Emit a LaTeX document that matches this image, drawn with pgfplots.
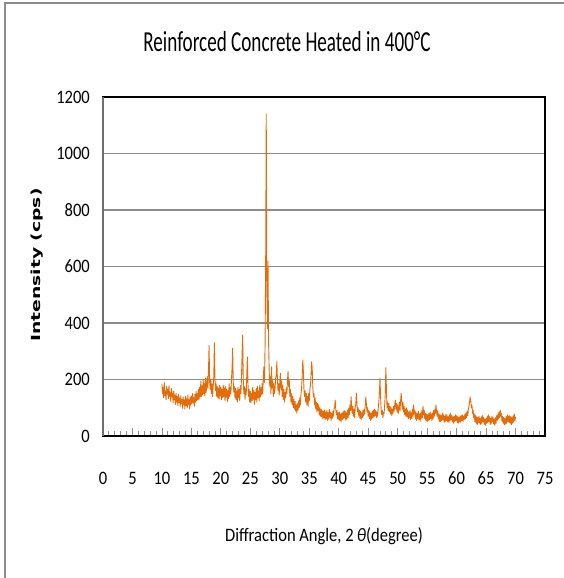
\documentclass[border=0pt]{standalone}
\usepackage{fontspec}
\setmainfont{Carlito}[FakeStretch=0.87]
\newfontfamily\titlefont{Carlito}[FakeStretch=0.66]
\newfontfamily\ylabfont{DejaVu Sans}[FakeStretch=1.5]
\usepackage{pgfplots}
\pgfplotsset{compat=1.18}
\definecolor{xrdorange}{RGB}{228,108,10}
\definecolor{gridgray}{RGB}{140,140,140}
\definecolor{framegray}{RGB}{140,140,140}
\begin{document}
\begin{tikzpicture}
\useasboundingbox (0pt,0pt) rectangle (564pt,578pt);
\fill[white] (0pt,0pt) rectangle (564pt,578pt);
\draw[framegray, line width=1.5pt] (5pt,0pt) -- (5pt,575pt) -- (564pt,575pt);
\begin{axis}[
  at={(103pt,142pt)}, anchor=south west,
  scale only axis, width=442pt, height=339pt,
  xmin=0, xmax=75, ymin=0, ymax=1200,
  xtick={0,5,...,75}, minor x tick num=4,
  ytick={0,200,...,1200},
  tick align=inside, xtick pos=bottom, ytick pos=left,
  major tick length=8pt, minor tick length=5pt,
  x tick style={draw=gridgray, line width=0.8pt},
  minor x tick style={draw=gridgray, line width=0.8pt},
  y tick style={draw=none},
  ymajorgrids, major grid style={draw=gridgray, line width=1.2pt},
  axis line style={black, line width=1.5pt},
  /pgf/number format/assume math mode=true,
  tick label style={font=\fontsize{19}{21}\selectfont},
  xticklabel style={anchor=center, inner sep=0pt, yshift=-42pt},
  yticklabel style={anchor=east, inner sep=0pt, xshift=-13pt},
  /pgf/number format/1000 sep={},
  title={\titlefont\fontsize{29}{31}\selectfont Reinforced Concrete Heated in 400°C},
  title style={at={(axis description cs:0.4163,1.145)}, anchor=center, inner sep=0pt},
  xlabel={\fontsize{19}{21}\selectfont Diffraction Angle, 2\,\textit{θ}(degree)},
  xlabel style={at={(axis description cs:0.5,-0.295)}, anchor=center, inner sep=0pt},
  ylabel={\ylabfont\bfseries\fontsize{12.5}{14}\selectfont Intensity (cps)},
  ylabel style={at={(axis description cs:-0.1493,0.504)}, anchor=center, inner sep=0pt},
  clip=true,
]
\addplot[color=xrdorange, line width=0.9pt, no markers, line join=round] coordinates {
(10.0,185)(10.1,150)(10.2,172)(10.3,135)(10.4,190)(10.5,142)(10.6,160)(10.7,128)(10.8,175)(10.9,148)
(11.0,165)(11.1,132)(11.2,178)(11.3,140)(11.4,155)(11.5,122)(11.6,168)(11.7,138)(11.8,150)(11.9,118)
(12.0,160)(12.1,128)(12.2,145)(12.3,112)(12.4,150)(12.5,120)(12.6,140)(12.7,108)(12.8,148)(12.9,118)
(13.0,135)(13.1,105)(13.2,142)(13.3,115)(13.4,130)(13.5,98)(13.6,138)(13.7,110)(13.8,128)(13.9,95)
(14.0,140)(14.1,108)(14.2,132)(14.3,100)(14.4,145)(14.5,112)(14.6,128)(14.7,96)(14.8,138)(14.9,110)
(15.0,142)(15.1,115)(15.2,150)(15.3,118)(15.4,135)(15.5,105)(15.6,148)(15.7,120)(15.8,158)(15.9,125)
(16.0,150)(16.1,128)(16.2,165)(16.3,130)(16.4,172)(16.5,138)(16.6,195)(16.7,140)(16.8,178)(16.9,145)
(17.0,200)(17.1,150)(17.2,185)(17.3,142)(17.4,205)(17.5,155)(17.6,180)(17.7,210)(17.8,168)(17.9,230)
(18.0,320)(18.1,190)(18.2,165)(18.3,200)(18.4,150)(18.5,185)(18.6,140)(18.7,175)(18.8,210)(18.9,330)
(19.0,200)(19.1,160)(19.2,185)(19.3,140)(19.4,175)(19.5,135)(19.6,168)(19.7,130)(19.8,180)(19.9,142)
(20.0,172)(20.1,128)(20.2,165)(20.3,135)(20.4,180)(20.5,140)(20.6,170)(20.7,125)(20.8,175)(20.9,138)
(21.0,165)(21.1,122)(21.2,160)(21.3,132)(21.4,185)(21.5,140)(21.6,172)(21.7,150)(21.8,200)(21.9,240)
(22.0,311)(22.1,190)(22.2,155)(22.3,175)(22.4,135)(22.5,168)(22.6,128)(22.7,160)(22.8,120)(22.9,172)
(23.0,135)(23.1,165)(23.2,125)(23.3,178)(23.4,150)(23.5,210)(23.6,290)(23.7,357)(23.8,200)(23.9,150)
(24.0,175)(24.1,130)(24.2,168)(24.3,145)(24.4,220)(24.5,280)(24.6,185)(24.7,140)(24.8,165)(24.9,120)
(25.0,158)(25.1,118)(25.2,150)(25.3,125)(25.4,172)(25.5,130)(25.6,160)(25.7,112)(25.8,155)(25.9,128)
(26.0,168)(26.1,120)(26.2,175)(26.3,135)(26.4,160)(26.5,125)(26.6,180)(26.7,138)(26.8,170)(26.9,145)
(27.0,185)(27.1,150)(27.2,205)(27.3,245)(27.4,190)(27.5,320)(27.6,600)(27.7,1140)(27.8,520)(27.9,380)
(28.0,620)(28.1,330)(28.2,230)(28.3,175)(28.4,210)(28.5,150)(28.6,245)(28.7,170)(28.8,195)(28.9,140)
(29.0,185)(29.1,150)(29.2,170)(29.3,205)(29.4,215)(29.5,263)(29.6,200)(29.7,160)(29.8,185)(29.9,145)
(30.0,190)(30.1,222)(30.2,165)(30.3,195)(30.4,140)(30.5,180)(30.6,130)(30.7,165)(30.8,120)(30.9,155)
(31.0,135)(31.1,170)(31.2,150)(31.3,195)(31.4,228)(31.5,175)(31.6,200)(31.7,140)(31.8,165)(31.9,120)
(32.0,150)(32.1,110)(32.2,140)(32.3,100)(32.4,130)(32.5,95)(32.6,122)(32.7,88)(32.8,110)(32.9,80)
(33.0,115)(33.1,92)(33.2,125)(33.3,100)(33.4,135)(33.5,110)(33.6,150)(33.7,170)(33.8,210)(33.9,269)
(34.0,230)(34.1,165)(34.2,140)(34.3,160)(34.4,120)(34.5,150)(34.6,110)(34.7,140)(34.8,105)(34.9,150)
(35.0,125)(35.1,165)(35.2,180)(35.3,215)(35.4,263)(35.5,240)(35.6,175)(35.7,140)(35.8,150)(35.9,110)
(36.0,135)(36.1,95)(36.2,120)(36.3,85)(36.4,115)(36.5,90)(36.6,110)(36.7,75)(36.8,100)(36.9,70)
(37.0,95)(37.1,68)(37.2,90)(37.3,60)(37.4,88)(37.5,65)(37.6,92)(37.7,58)(37.8,85)(37.9,62)
(38.0,90)(38.1,55)(38.2,82)(38.3,60)(38.4,95)(38.5,65)(38.6,85)(38.7,55)(38.8,80)(38.9,62)
(39.0,88)(39.1,70)(39.2,95)(39.3,100)(39.4,127)(39.5,95)(39.6,75)(39.7,90)(39.8,60)(39.9,82)
(40.0,58)(40.1,85)(40.2,55)(40.3,78)(40.4,50)(40.5,80)(40.6,58)(40.7,85)(40.8,62)(40.9,90)
(41.0,65)(41.1,88)(41.2,55)(41.3,82)(41.4,60)(41.5,92)(41.6,65)(41.7,100)(41.8,75)(41.9,110)
(42.0,90)(42.1,139)(42.2,95)(42.3,80)(42.4,105)(42.5,70)(42.6,95)(42.7,65)(42.8,100)(42.9,115)
(43.0,152)(43.1,110)(43.2,85)(43.3,100)(43.4,70)(43.5,92)(43.6,62)(43.7,88)(43.8,58)(43.9,82)
(44.0,65)(44.1,90)(44.2,70)(44.3,95)(44.4,78)(44.5,108)(44.6,138)(44.7,110)(44.8,85)(44.9,100)
(45.0,70)(45.1,90)(45.2,62)(45.3,85)(45.4,55)(45.5,80)(45.6,60)(45.7,88)(45.8,65)(45.9,92)
(46.0,68)(46.1,95)(46.2,72)(46.3,90)(46.4,65)(46.5,85)(46.6,70)(46.7,98)(46.8,120)(46.9,150)
(47.0,205)(47.1,140)(47.2,95)(47.3,75)(47.4,90)(47.5,65)(47.6,85)(47.7,80)(47.8,110)(47.9,150)
(48.0,242)(48.1,160)(48.2,100)(48.3,120)(48.4,90)(48.5,115)(48.6,85)(48.7,105)(48.8,78)(48.9,100)
(49.0,72)(49.1,95)(49.2,80)(49.3,105)(49.4,88)(49.5,110)(49.6,127)(49.7,95)(49.8,115)(49.9,85)
(50.0,110)(50.1,80)(50.2,100)(50.3,120)(50.4,90)(50.5,125)(50.6,152)(50.7,115)(50.8,95)(50.9,120)
(51.0,85)(51.1,105)(51.2,75)(51.3,95)(51.4,70)(51.5,100)(51.6,68)(51.7,92)(51.8,60)(51.9,85)
(52.0,65)(52.1,90)(52.2,58)(52.3,82)(52.4,62)(52.5,95)(52.6,70)(52.7,110)(52.8,78)(52.9,92)
(53.0,60)(53.1,85)(53.2,55)(53.3,80)(53.4,62)(53.5,88)(53.6,58)(53.7,78)(53.8,52)(53.9,82)
(54.0,60)(54.1,90)(54.2,65)(54.3,105)(54.4,75)(54.5,92)(54.6,60)(54.7,80)(54.8,55)(54.9,78)
(55.0,50)(55.1,75)(55.2,55)(55.3,80)(55.4,58)(55.5,85)(55.6,62)(55.7,78)(55.8,55)(55.9,82)
(56.0,60)(56.1,90)(56.2,68)(56.3,95)(56.4,80)(56.5,110)(56.6,85)(56.7,70)(56.8,90)(56.9,60)
(57.0,78)(57.1,52)(57.2,75)(57.3,50)(57.4,72)(57.5,55)(57.6,80)(57.7,58)(57.8,75)(57.9,48)
(58.0,70)(58.1,52)(58.2,78)(58.3,55)(58.4,72)(58.5,50)(58.6,68)(58.7,48)(58.8,75)(58.9,55)
(59.0,80)(59.1,58)(59.2,72)(59.3,50)(59.4,68)(59.5,45)(59.6,70)(59.7,52)(59.8,75)(59.9,55)
(60.0,72)(60.1,48)(60.2,68)(60.3,45)(60.4,65)(60.5,50)(60.6,70)(60.7,48)(60.8,72)(60.9,55)
(61.0,75)(61.1,52)(61.2,70)(61.3,58)(61.4,78)(61.5,60)(61.6,82)(61.7,65)(61.8,88)(61.9,72)
(62.0,95)(62.1,105)(62.2,120)(62.3,138)(62.4,125)(62.5,100)(62.6,110)(62.7,80)(62.8,92)(62.9,65)
(63.0,78)(63.1,50)(63.2,72)(63.3,45)(63.4,68)(63.5,40)(63.6,65)(63.7,48)(63.8,70)(63.9,45)
(64.0,62)(64.1,40)(64.2,68)(64.3,45)(64.4,72)(64.5,50)(64.6,65)(64.7,42)(64.8,60)(64.9,38)
(65.0,62)(65.1,45)(65.2,70)(65.3,48)(65.4,75)(65.5,52)(65.6,68)(65.7,40)(65.8,62)(65.9,45)
(66.0,70)(66.1,50)(66.2,65)(66.3,42)(66.4,60)(66.5,38)(66.6,65)(66.7,45)(66.8,72)(66.9,55)
(67.0,78)(67.1,60)(67.2,85)(67.3,65)(67.4,92)(67.5,70)(67.6,80)(67.7,52)(67.8,70)(67.9,45)
(68.0,65)(68.1,40)(68.2,62)(68.3,42)(68.4,68)(68.5,45)(68.6,75)(68.7,50)(68.8,70)(68.9,48)
(69.0,72)(69.1,45)(69.2,68)(69.3,40)(69.4,65)(69.5,45)(69.6,72)(69.7,50)(69.8,78)(69.9,55)(70.0,68)
};
\end{axis}
\draw[framegray!80!black, line width=1.5pt] (103pt,142pt) -- (103pt,481pt);
\end{tikzpicture}
\end{document}
